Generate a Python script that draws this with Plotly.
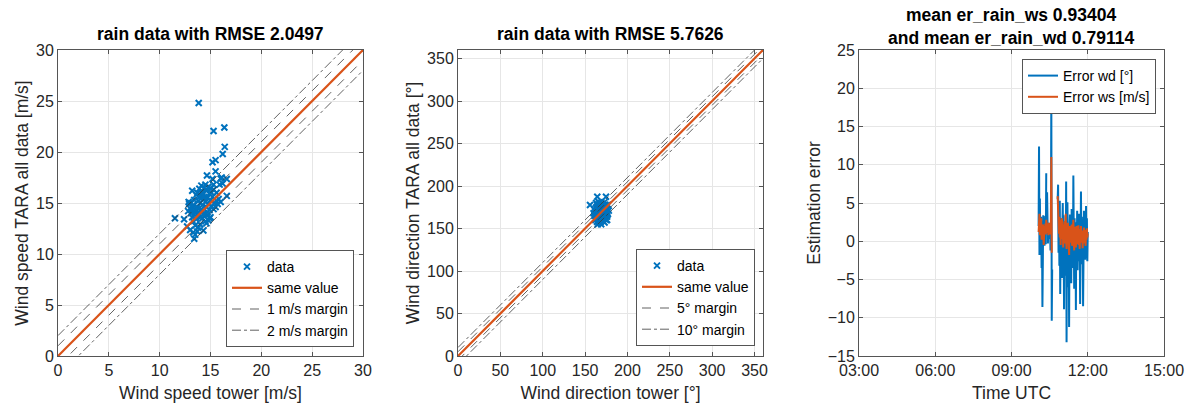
import numpy as np
import pandas as pd
import plotly.graph_objects as go

nan = np.nan

# ---------- Panel 1: wind speed ----------
ws_tower = [13.84, 15.3, 16.36, 16.4, 16.2, 15.2, 15.5, 15.5, 14.65, 16.6, 16.1, 16.6, 15.2,
            11.5, 12.4, 13.2, 12.85, 13.4, 13.0, 12.7, 15.3, 16.0, 15.9, 16.2,
            12.9, 13.0, 13.1, 13.2, 13.3, 13.3, 13.4, 13.5, 13.5, 13.6, 13.6, 13.7, 13.7, 13.8,
            13.8, 13.9, 13.9, 14.0, 14.0, 14.0, 14.1, 14.1, 14.2, 14.2, 14.2, 14.3, 14.3, 14.4,
            14.4, 14.5, 14.5, 14.6, 14.6, 14.7, 14.7, 14.8, 14.8, 14.9, 14.9, 15.0, 15.0, 15.1,
            15.1, 15.2, 15.3, 15.4, 15.5, 15.6, 15.7, 13.0, 13.2, 13.4, 13.6, 13.8, 14.0, 14.1,
            14.3, 14.5, 14.6, 14.8, 13.5, 13.3, 13.9, 14.2, 14.4, 15.0, 15.3, 13.1, 14.7, 15.6,
            12.8, 13.7, 14.9, 15.8, 16.0]
ws_tara = [24.8, 22.06, 22.4, 20.5, 19.8, 19.0, 19.2, 18.1, 17.7, 17.35, 17.5, 15.7, 17.35,
           13.5, 13.4, 16.2, 15.1, 11.5, 12.35, 12.7, 16.8, 17.4, 16.8, 16.9,
           14.9, 14.5, 14.0, 13.6, 13.2, 14.8, 15.3, 14.1, 12.8, 15.8, 13.4, 14.6, 16.0, 15.2,
           12.6, 13.8, 16.4, 15.0, 14.2, 12.9, 15.7, 16.7, 13.5, 14.8, 16.1, 15.4, 12.3, 14.0,
           16.5, 15.1, 13.2, 14.6, 16.2, 15.5, 13.8, 14.9, 16.6, 15.9, 14.3, 15.3, 13.6, 14.7,
           16.0, 15.6, 14.4, 15.0, 14.6, 15.2, 14.9, 15.0, 14.6, 13.9, 14.3, 14.0, 13.6, 14.4,
           13.9, 16.8, 13.0, 13.3, 11.9, 12.1, 15.6, 15.9, 15.6, 16.4, 16.3, 14.3, 14.1, 16.0,
           14.2, 12.2, 13.5, 15.4, 15.1]

# ---------- Panel 2: wind direction ----------
wd_tower = [155.8, 164.4, 174.7,
            161, 162, 162, 163, 163, 164, 164, 164, 165, 165, 165, 166, 166, 166, 167, 167, 167,
            168, 168, 168, 169, 169, 169, 170, 170, 170, 171, 171, 171, 172, 172, 172, 173, 173,
            173, 174, 174, 175, 175, 175, 176, 176, 177, 177, 178, 162, 163, 165, 166, 167, 168,
            169, 170, 171, 172, 174, 176, 163, 165, 167, 169, 171, 173, 175, 160, 161, 164, 166,
            168, 170, 172, 174, 176, 164, 168, 170, 171, 173, 166, 169]
wd_tara = [177.6, 187.4, 187.4,
           165, 170, 160, 174, 168, 158, 163, 178, 171, 166, 155, 160, 175, 169, 163, 180, 157,
           172, 166, 161, 176, 170, 155, 164, 179, 168, 159, 173, 166, 162, 177, 170, 157, 168,
           181, 165, 173, 160, 176, 169, 164, 172, 167, 178, 171, 167, 162, 173, 164, 170, 158,
           163, 172, 177, 165, 161, 168, 180, 161, 175, 166, 170, 163, 172, 168, 172, 168, 157,
           178, 160, 174, 178, 160, 172, 169, 175, 163, 175, 181, 159]

# ---------- Panel 3: estimation errors (1-min samples from 10:04 to 12:00) ----------
err_wd = [2.0, 12.4, -1.8, 5.6, -0.8, 1.5, 3.2, -3.5, 0.8, -8.6,
          2.5, 3.4, 0.2, 2.1, -0.6, 1.8, 3.3, -0.4, 8.9, nan,
          6.4, 3.9, -0.3, 2.4, 0.9, 2.0, 0.3, 1.6, -1.2, 1.9,
          18.9, -10.4, -3.7, nan, nan, nan, nan, nan, nan, nan,
          nan, nan, nan, nan, nan, 5.5, 7.4, -1.5, 4.8, -3.2,
          5.3, -6.9, 2.2, -2.8, 3.0, -4.8, 1.5, 5.0, -2.0, 3.4,
          -8.9, 0.5, -1.6, 2.6, -4.5, 7.8, -13.2, 1.2, 5.1, -3.0,
          -6.0, 2.0, -11.2, 0.8, 3.5, -2.4, 1.5, -5.5, 4.2, -0.8,
          2.6, -3.5, 8.6, -1.0, -6.2, 3.0, -0.5, 1.8, -9.0, 2.5,
          -2.0, 4.0, -3.8, 1.0, -1.5, 3.6, -2.6, 0.5, -8.2, 2.2,
          6.5, -1.6, 3.2, -3.0, 0.8, -8.5, 2.0, 4.0, -1.0, 2.8,
          -2.4, 1.0, 4.6, -2.2, 3.0, -2.6, 1.2]
err_ws = [1.2, 2.0, 3.6, 0.8, 2.5, 1.0, 3.0, 0.2, 1.8, 0.4,
          2.2, 1.3, -0.5, 1.0, 2.0, 1.5, 2.3, 0.9, 2.8, 1.6,
          2.0, 1.1, 1.9, 0.8, 2.4, 1.4, 2.0, 0.9, 1.7, 2.6,
          11.0, -1.5, nan, nan, nan, nan, nan, nan, nan, nan,
          nan, nan, nan, nan, nan, 5.9, 2.5, 4.0, 1.0, 3.2,
          0.5, 2.8, -0.5, 1.9, 0.3, 3.0, 0.8, 2.2, -0.8, 1.5,
          0.2, 2.6, -0.3, 1.2, 3.6, 0.1, -1.0, 1.8, 0.6, 2.4,
          -0.5, 1.0, -1.8, 0.9, 2.0, -0.2, 1.4, 0.0, 2.2, -0.6,
          1.1, 0.4, 2.8, -0.3, -1.2, 1.5, 0.2, 1.9, -0.8, 0.7,
          2.0, -0.4, 1.3, 0.1, 2.1, -0.5, 0.9, -1.0, 1.6, 0.3,
          2.0, -0.2, 1.0, 0.5, -0.9, 1.4, 0.2, 1.8, -0.3, 1.0,
          0.4, -0.6, 1.5, 0.2, 1.7, 0.5, 1.0]
t_start = "2020-01-01 10:04"
t_wd = pd.date_range(t_start, periods=len(err_wd), freq="1min")
t_ws = pd.date_range(t_start, periods=len(err_ws), freq="1min")

titles = ["rain data with RMSE 2.0497", "rain data with RMSE 5.7626",
          "mean er_rain_ws 0.93404<br>and mean er_rain_wd 0.79114"]

BLUE = "#0072BD"
ORANGE = "#D95319"
TXT = "#262626"
FONT = "Liberation Sans, Arial, Helvetica, sans-serif"

W, H = 1195, 403
px = lambda a, b: [a / W, b / W]
xdom = [px(58, 363), px(458, 763), px(859, 1164)]
ydom = [1 - 356 / H, 1 - 50 / H]

fig = go.Figure()

def diag_traces(xa, ya, lim, m1, m2, lg, names):
    fig.add_trace(go.Scatter(x=[0, lim], y=[0, lim], mode="lines", name=names[0],
                             line=dict(color=ORANGE, width=2.2), xaxis=xa, yaxis=ya, legend=lg))
    for k, (m, dash, nm) in enumerate([(m1, "dash", names[1]), (m2, "dashdot", names[2])]):
        for s in (1, -1):
            fig.add_trace(go.Scatter(x=[0, lim], y=[s * m, lim + s * m], mode="lines",
                                     name=nm, showlegend=(s == 1), legendgroup=nm + lg,
                                     line=dict(color="#3a3a3a", width=0.8, dash=dash),
                                     xaxis=xa, yaxis=ya, legend=lg))

# panel 1
fig.add_trace(go.Scatter(x=ws_tower, y=ws_tara, mode="markers", name="data",
                         marker=dict(symbol="x-thin", size=6, line=dict(color=BLUE, width=2), color=BLUE),
                         xaxis="x", yaxis="y", legend="legend"))
diag_traces("x", "y", 30, 1, 2, "legend", ["same value", "1 m/s margin", "2 m/s margin"])

# panel 2
fig.add_trace(go.Scatter(x=wd_tower, y=wd_tara, mode="markers", name="data",
                         marker=dict(symbol="x-thin", size=6, line=dict(color=BLUE, width=2), color=BLUE),
                         xaxis="x2", yaxis="y2", legend="legend2"))
diag_traces("x2", "y2", 360, 5, 10, "legend2", ["same value", "5° margin", "10° margin"])

# panel 3
fig.add_trace(go.Scatter(x=t_wd, y=err_wd, mode="lines", name="Error wd [°]",
                         line=dict(color=BLUE, width=2), xaxis="x3", yaxis="y3", legend="legend3"))
fig.add_trace(go.Scatter(x=t_ws, y=err_ws, mode="lines", name="Error ws [m/s]",
                         line=dict(color=ORANGE, width=2), xaxis="x3", yaxis="y3", legend="legend3"))

axcommon = dict(showline=True, linecolor="#555555", linewidth=1, mirror="ticks",
                ticks="inside", ticklen=4, tickcolor="#555555", showgrid=True,
                gridcolor="#E6E6E6", zeroline=False, automargin=False,
                tickfont=dict(size=16, color=TXT, family=FONT))

def ttl(t, so):
    return dict(text=t, font=dict(size=17.5, color=TXT, family=FONT), standoff=so)

layout = dict(
    width=W, height=H, margin=dict(l=0, r=0, t=0, b=0),
    paper_bgcolor="white", plot_bgcolor="white",
    font=dict(family=FONT, color=TXT),
    xaxis=dict(domain=xdom[0], range=[0, 30], dtick=5, title=ttl("Wind speed tower [m/s]", 10), anchor="y", **axcommon),
    yaxis=dict(domain=ydom, range=[0, 30], dtick=5, title=ttl("Wind speed TARA all data [m/s]", 2), anchor="x", **axcommon),
    xaxis2=dict(domain=xdom[1], range=[0, 360], dtick=50, title=ttl("Wind direction tower [°]", 10), anchor="y2", **axcommon),
    yaxis2=dict(domain=ydom, range=[0, 360], dtick=50, title=ttl("Wind direction TARA all data [°]", 2), anchor="x2", **axcommon),
    xaxis3=dict(domain=xdom[2], type="date", range=["2020-01-01 03:00", "2020-01-01 15:00"],
                dtick=3 * 3600 * 1000, tick0="2020-01-01 03:00", tickformat="%H:%M",
                title=ttl("Time UTC", 10), anchor="y3", **axcommon),
    yaxis3=dict(domain=ydom, range=[-15, 25], dtick=5, title=ttl("Estimation error", 2), anchor="x3", **axcommon),
)

legcommon = dict(bgcolor="white", bordercolor="#555555", borderwidth=1,
                 font=dict(size=14, color="black", family=FONT), tracegroupgap=0,
                 itemclick=False, itemdoubleclick=False)
layout["legend"] = dict(x=354 / W, y=1 - 347 / H, xanchor="right", yanchor="bottom", **legcommon)
layout["legend2"] = dict(x=755 / W, y=1 - 346 / H, xanchor="right", yanchor="bottom", **legcommon)
layout["legend3"] = dict(x=1156 / W, y=1 - 59 / H, xanchor="right", yanchor="top", **legcommon)

fig.update_layout(**layout)

for i, t in enumerate(titles):
    cx = (xdom[i][0] + xdom[i][1]) / 2
    yb = 1 - 46 / H if i < 2 else 1 - 50 / H
    fig.add_annotation(text="<b>" + t + "</b>", x=cx, y=yb, xref="paper", yref="paper",
                       xanchor="center", yanchor="bottom", showarrow=False,
                       font=dict(size=17.5, color="black", family=FONT))

fig.write_html("out.html")
